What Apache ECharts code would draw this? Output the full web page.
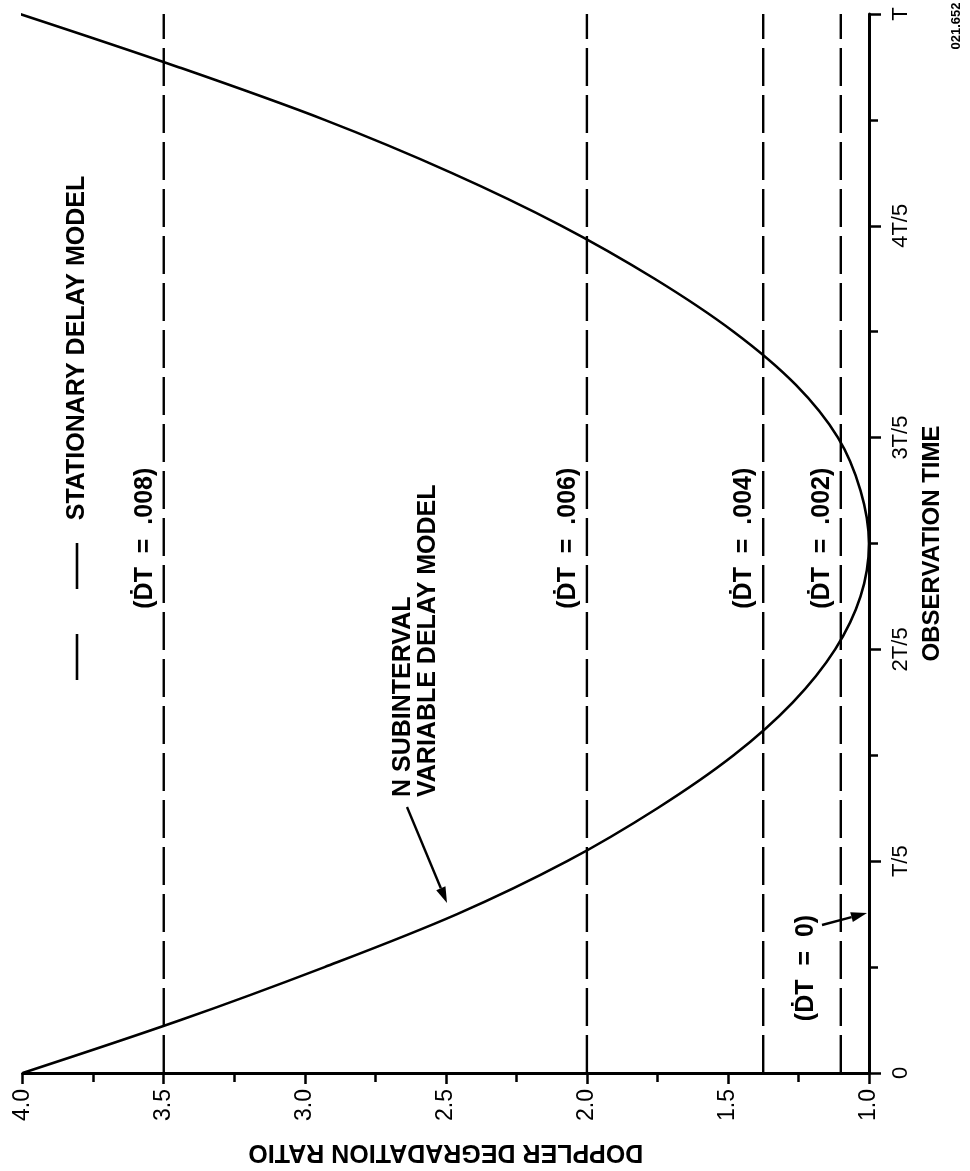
<!DOCTYPE html>
<html><head><meta charset="utf-8">
<script src="https://cdn.jsdelivr.net/npm/echarts@6/dist/echarts.min.js"></script>
<style>html,body{margin:0;padding:0;background:#fff}#c{width:970px;height:1171px}</style>
</head><body><div id="c"></div>
<script>
// Observation time (fraction of T) and Doppler degradation ratio of the N-subinterval model
const timeValues  = [0, 0.05, 0.10, 0.15, 0.20, 0.25, 0.30, 0.35, 0.40, 0.45, 0.50, 0.55, 0.60, 0.65, 0.70, 0.75, 0.80, 0.85, 0.90, 0.95, 1.00];
const ratioValues = [4.00, 3.44, 2.93, 2.46, 2.07, 1.75, 1.48, 1.27, 1.12, 1.03, 1.00, 1.03, 1.11, 1.26, 1.48, 1.76, 2.09, 2.48, 2.93, 3.45, 4.01];
// Stationary delay model levels
const dtLineRatios = [3.5, 2.0, 1.375, 1.1];
const dtLineLabels = ['(ḊT  =  .008)', '(ḊT  =  .006)', '(ḊT  =  .004)', '(ḊT  =  .002)'];
const dtZeroLabel = '(ḊT  =  0)';
// Tick labels
const ratioTickLabels = ['1.0', '1.5', '2.0', '2.5', '3.0', '3.5', '4.0'];
const timeTickLabels = ['0', 'T/5', '2T/5', '3T/5', '4T/5', 'T'];

const FONT = "'Liberation Sans', Arial, Helvetica, sans-serif";
const chart = echarts.init(document.getElementById('c'), null, {renderer: 'canvas'});

const curveData = timeValues.map((t, i) => [ratioValues[i], t]);
const series = [{
  type: 'line', data: curveData, smooth: 0.35, showSymbol: false, silent: true,
  lineStyle: {color: '#000', width: 2.6}
}];
dtLineRatios.forEach(r => {
  series.push({
    type: 'line', data: [[r, 0], [r, 1]], showSymbol: false, silent: true,
    lineStyle: {color: '#000', width: 2.4, type: [38, 9]}
  });
});

chart.setOption({
  backgroundColor: '#fff',
  animation: false,
  grid: {left: 22.7, right: 101, top: 14, bottom: 98, containLabel: false},
  xAxis: {
    type: 'value', min: 1, max: 4, interval: 0.5, inverse: true, position: 'bottom',
    name: 'DOPPLER DEGRADATION RATIO', nameLocation: 'middle', nameRotate: 180, nameGap: 66,
    nameTextStyle: {fontFamily: FONT, fontWeight: 'bold', fontSize: 25, color: '#000'},
    axisLine: {onZero: false, lineStyle: {color: '#000', width: 3}},
    axisTick: {length: 11, lineStyle: {color: '#000', width: 2.5}},
    minorTick: {show: true, splitNumber: 2, length: 9, lineStyle: {color: '#000', width: 2.5}},
    splitLine: {show: false},
    axisLabel: {
      rotate: 90, margin: 16, fontFamily: FONT, fontSize: 23, color: '#000',
      formatter: v => ratioTickLabels[Math.round((v - 1) / 0.5)]
    }
  },
  yAxis: {
    type: 'value', min: 0, max: 1, interval: 0.2, position: 'right',
    name: 'OBSERVATION TIME', nameLocation: 'middle', nameRotate: 90, nameGap: 48,
    nameTextStyle: {fontFamily: FONT, fontWeight: 'bold', fontSize: 24, color: '#000'},
    axisLine: {onZero: false, lineStyle: {color: '#000', width: 3}},
    axisTick: {length: 12, lineStyle: {color: '#000', width: 2.5}},
    minorTick: {show: true, splitNumber: 2, length: 9, lineStyle: {color: '#000', width: 2.5}},
    splitLine: {show: false},
    axisLabel: {
      rotate: 90, margin: 21, fontFamily: FONT, fontSize: 22, color: '#000',
      formatter: v => timeTickLabels[Math.round(v / 0.2)]
    }
  },
  series: series
});

const px = (r, t) => chart.convertToPixel({gridIndex: 0}, [r, t]);
const graphics = [];
const rotText = (x, y, text, size, align, extra) => Object.assign({
  type: 'text', x: x, y: y, rotation: Math.PI / 2, silent: true,
  style: {text: text, fill: '#000', font: 'bold ' + size + 'px ' + FONT, align: align || 'center', verticalAlign: 'middle'}
}, extra || {});

// labels of the stationary lines
dtLineRatios.forEach((r, i) => {
  const p = px(r, 0.505);
  graphics.push(rotText(p[0] - 19, p[1], dtLineLabels[i], 25));
});
// (DT = 0)
graphics.push(rotText(806, 968, dtZeroLabel, 25));
// curve annotation
graphics.push(rotText(415.5, 797, 'N SUBINTERVAL\nVARIABLE DELAY MODEL', 25, 'left',
  {style: {text: 'N SUBINTERVAL\nVARIABLE DELAY MODEL', fill: '#000', font: 'bold 25px ' + FONT, align: 'left', verticalAlign: 'middle', lineHeight: 25}}));
// legend
graphics.push(rotText(77, 348, 'STATIONARY DELAY MODEL', 25));
graphics.push({type: 'line', silent: true, shape: {x1: 77, y1: 680, x2: 77, y2: 543},
  style: {stroke: '#000', lineWidth: 2.6, lineDash: [46, 45]}});
// figure id
graphics.push(rotText(956, 26, '021.652', 13));

// arrows
function arrow(x1, y1, x2, y2) {
  const a = Math.atan2(y2 - y1, x2 - x1), L = 16, W = 5;
  const bx = x2 - L * Math.cos(a), by = y2 - L * Math.sin(a);
  graphics.push({type: 'line', silent: true, shape: {x1: x1, y1: y1, x2: bx, y2: by}, style: {stroke: '#000', lineWidth: 2.4}});
  graphics.push({type: 'polygon', silent: true, shape: {points: [[x2, y2],
    [bx + W * Math.sin(a), by - W * Math.cos(a)], [bx - W * Math.sin(a), by + W * Math.cos(a)]]},
    style: {fill: '#000'}});
}
arrow(407, 807, 447, 903);
arrow(822, 925, 867, 913);

chart.setOption({graphic: graphics});
</script>
</body></html>
